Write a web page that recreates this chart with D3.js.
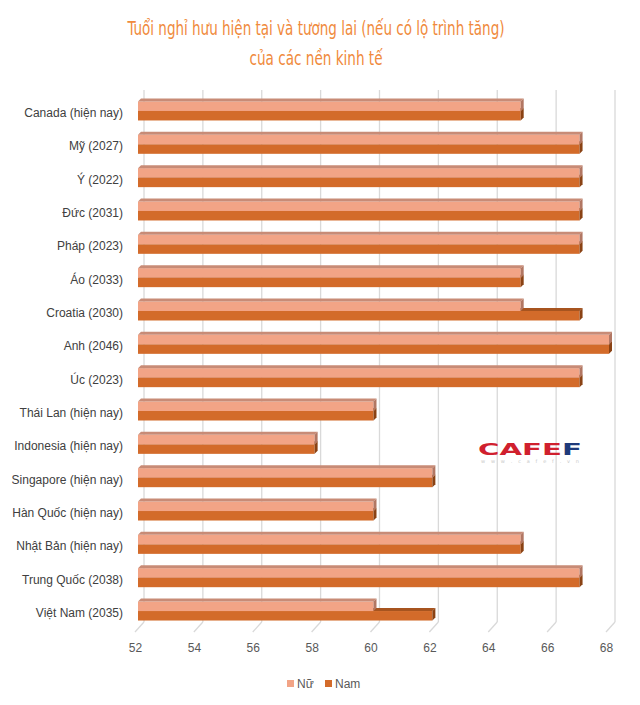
<!DOCTYPE html>
<html><head><meta charset="utf-8">
<script src="https://cdn.jsdelivr.net/npm/d3@7"></script>
<style>body{margin:0;background:#fff}svg{display:block}</style>
</head><body>
<script>
const categories = ["Canada (hiện nay)","Mỹ (2027)","Ý (2022)","Đức (2031)","Pháp (2023)","Áo (2033)","Croatia (2030)","Anh (2046)","Úc (2023)","Thái Lan (hiện nay)","Indonesia (hiện nay)","Singapore (hiện nay)","Hàn Quốc (hiện nay)","Nhật Bản (hiện nay)","Trung Quốc (2038)","Việt Nam (2035)"];
const nu  = [65,67,67,67,67,65,65,68,67,60,58,62,60,65,67,60];
const nam = [65,67,67,67,67,65,67,68,67,60,58,62,60,65,67,62];
const seriesNames = ["Nữ","Nam"];
const ticks = [52,54,56,58,60,62,64,66,68];
const titleLines = ["Tuổi nghỉ hưu hiện tại và tương lai (nếu có lộ trình tăng)","của các nền kinh tế"];
const titleWidths = [377,133];

const W=640,H=705;
const svg=d3.select("body").append("svg").attr("width",W).attr("height",H);
const x=d3.scaleLinear().domain([52,68]).range([138,609]);
const y=d3.scaleBand().domain(categories).range([94.3,627.7]).padding(0);
const step=y.step();
const ys=d3.scaleBand().domain(seriesNames).range([step/2-9.5,step/2+9.5]);
const dep=3, gdx=6;
const colors={"Nữ":{front:"#F2A486",top:"#C88B76",side:"#B27763"},"Nam":{front:"#D36B2A",top:"#A7541F",side:"#8A4214"}};

// gridlines
const gTop=90,gBot=622;
const grid=svg.append("g");
ticks.forEach(t=>{
  grid.append("line").attr("x1",x(t)+gdx).attr("x2",x(t)+gdx).attr("y1",gTop).attr("y2",gBot)
    .attr("stroke","#D9D9D9").attr("stroke-width",1.3);
  grid.append("line").attr("x1",x(t)+gdx).attr("x2",x(t)-3).attr("y1",gBot).attr("y2",632)
    .attr("stroke","#D9D9D9").attr("stroke-width",1.3);
});
// axis labels
const xa=svg.append("g").attr("transform","translate(0,632)")
  .call(d3.axisBottom(x).tickValues(ticks).tickSize(0).tickPadding(11));
xa.select(".domain").remove();
xa.selectAll("text").attr("font-family","Liberation Sans, Arial, sans-serif").attr("font-size",12).attr("fill","#595959").attr("dx",-3);

// category axis
const ya=svg.append("g").attr("transform","translate(123,0)")
  .call(d3.axisLeft(y).tickSize(0).tickPadding(0));
ya.select(".domain").remove();
ya.selectAll("text").attr("font-family","Liberation Sans, Arial, sans-serif").attr("font-size",12).attr("fill","#404040").attr("dy","0.5em");

function bar(g,x0,x1,y0,h,c){
  g.append("rect").attr("x",x0).attr("y",y0).attr("width",x1-x0).attr("height",h).attr("fill",c.front);
  g.append("path").attr("d",`M${x0},${y0}L${x1},${y0}L${x1+dep},${y0-dep}L${x0+dep},${y0-dep}Z`).attr("fill",c.top);
  g.append("path").attr("d",`M${x1},${y0}L${x1+dep},${y0-dep}L${x1+dep},${y0+h-dep}L${x1},${y0+h}Z`).attr("fill",c.side);
}
const bars=svg.append("g");
categories.forEach((cat,i)=>{
  const g=bars.append("g");
  const yN=y(cat)+ys("Nam"), yF=y(cat)+ys("Nữ");
  bar(g,x(52),x(nam[i]),yN,ys.bandwidth(),colors["Nam"]);
  bar(g,x(52),x(nu[i]),yF,ys.bandwidth(),colors["Nữ"]);
});

// title
svg.append("g").selectAll("text").data(titleLines).join("text")
  .attr("x",316).attr("y",(d,i)=>35+i*30).attr("text-anchor","middle")
  .attr("font-family","Liberation Sans Narrow, DejaVu Sans Condensed, sans-serif")
  .attr("textLength",(d,i)=>titleWidths[i]).attr("lengthAdjust","spacingAndGlyphs")
  .attr("font-size",20).attr("fill","#F08A3C").text(d=>d);

// legend
const leg=svg.append("g").attr("font-family","Liberation Sans, Arial, sans-serif").attr("font-size",12).attr("fill","#595959");
[["Nữ",287],["Nam",325]].forEach(([n,lx])=>{
  leg.append("rect").attr("x",lx).attr("y",680).attr("width",7).attr("height",7).attr("fill",colors[n].front);
  leg.append("text").attr("x",lx+10).attr("y",688).text(n);
});

// logo
const logo=svg.append("g");
logo.append("text").attr("x",478).attr("y",455).attr("font-family","DejaVu Sans, sans-serif").attr("font-weight","bold")
  .attr("font-size",15).attr("textLength",104).attr("lengthAdjust","spacingAndGlyphs")
  .selectAll("tspan").data([["CAFE","#D0202E"],["F","#1F3A7A"]]).join("tspan").attr("fill",d=>d[1]).text(d=>d[0]);
logo.append("text").attr("x",481).attr("y",463).attr("font-family","DejaVu Sans, sans-serif").attr("font-size",5)
  .attr("fill","#C8C8C8").attr("textLength",98).text("w w w . c a f e f . v n");
</script>
</body></html>
